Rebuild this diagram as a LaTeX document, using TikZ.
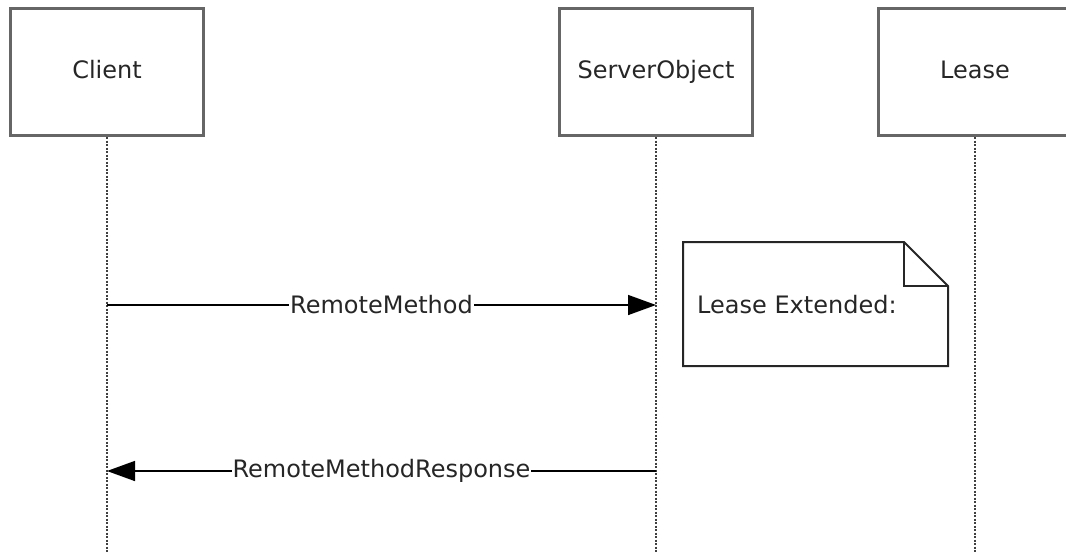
\documentclass[tikz,border=0pt]{standalone}
\usepackage{fontspec}
\setmainfont{DejaVu Sans}
\usetikzlibrary{arrows.meta,positioning}
\begin{document}
\begin{tikzpicture}[x=1pt,y=-1pt,
  actor/.style={draw=black!60,line width=3pt,minimum width=193pt,minimum height=127pt,
    text height=17pt,text depth=5pt,text=black!85,font=\fontsize{24}{29}\selectfont},
  lifeline/.style={line width=2pt,black!75,dash pattern=on 2pt off 1.5pt},
  msg/.style={line width=1.5pt,-{Triangle[length=28pt,width=20pt]}},
  msglabel/.style={fill=white,inner sep=1pt,text=black!85,font=\fontsize{24}{29}\selectfont}]

% Frame of the picture
\useasboundingbox (0,0) rectangle (1066,552);
\clip (0,0) rectangle (1066,552);

% Participants
\node[actor] (client) at (107,72) {Client};
\node[actor] (server) at (656,72) {ServerObject};
\node[actor] (lease) at (975,72) {Lease};

% Lifelines
\foreach \p in {client,server,lease} {
    \coordinate (\p-end) at (\p.south |- 0,552);
    \draw[lifeline] (\p.south) -- (\p-end);
}

% Points on the lifelines for the messages
\coordinate (client-call) at (client.south |- 0,305);
\coordinate (server-call) at (server.south |- 0,305);
\coordinate (client-back) at (client.south |- 0,471);
\coordinate (server-back) at (server.south |- 0,471);

% Messages
\draw[msg] (client-call) -- (server-call) node[msglabel,midway] {RemoteMethod};
\draw[msg] (server-back) -- (client-back) node[msglabel,midway] {RemoteMethodResponse};

% Note with folded corner
\coordinate (note-nw) at (683,242);
\coordinate (note-se) at (948,366);
\draw[line width=2pt,black!85,fill=white]
    (note-nw) -- (904,242) -- (948,286) -- (note-se) -- (683,366) -- cycle;
\draw[line width=2pt,black!85] (904,242) -- (904,286) -- (948,286);
\node[anchor=west,inner sep=0pt,text=black!85,font=\fontsize{24}{29}\selectfont]
    (note) at (697,305) {Lease Extended:};

\end{tikzpicture}
\end{document}
